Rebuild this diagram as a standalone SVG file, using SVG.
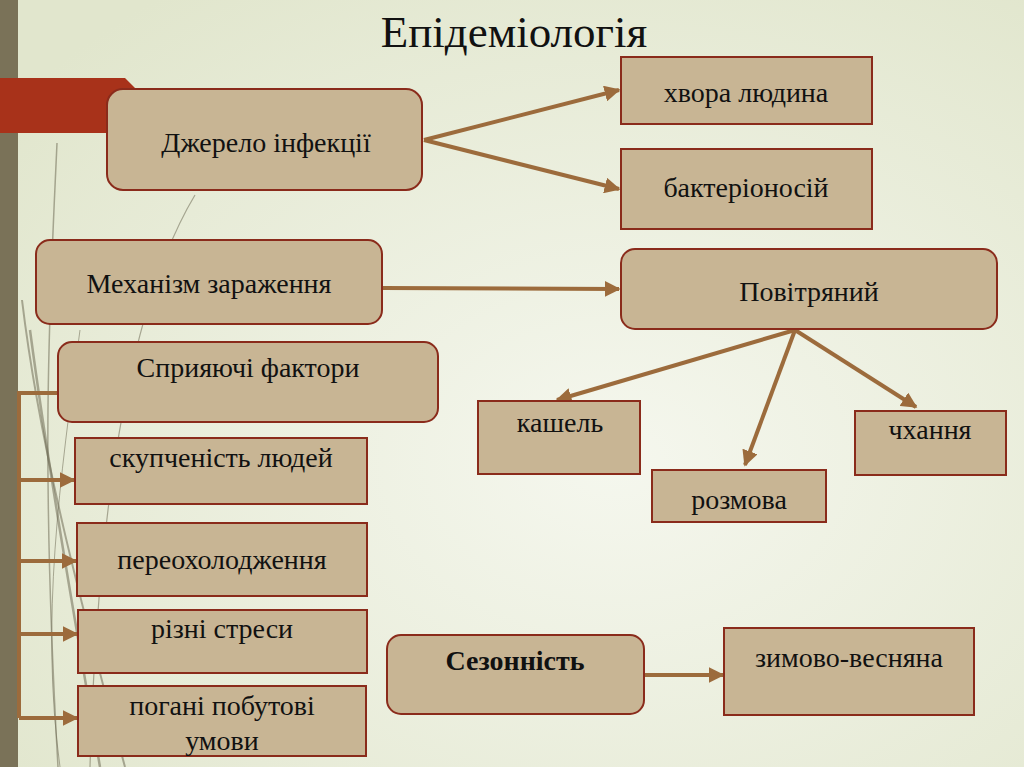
<svg xmlns="http://www.w3.org/2000/svg" width="1024" height="767" viewBox="0 0 1024 767">
<defs>
<radialGradient id="bg" cx="0.6" cy="0.6" r="0.75">
<stop offset="0" stop-color="#f5f7ee"/>
<stop offset="1" stop-color="#e1e6cd"/>
</radialGradient>
<marker id="ah" viewBox="0 0 10 10" refX="9" refY="5" markerWidth="4" markerHeight="4" orient="auto" markerUnits="strokeWidth">
<path d="M0,0 L10,5 L0,10 z" fill="#9c6b3c"/>
</marker>
<style>
.box{fill:#c8b594;stroke:#8a2b1b;stroke-width:2}
.t{font-family:"Liberation Serif","Times New Roman",serif;font-size:28px;fill:#111;text-anchor:middle}
.b{font-weight:bold}
.ln{stroke:#9c6b3c;stroke-width:4;fill:none}
.deco{stroke:#6f6b55;fill:none;opacity:0.55}
</style>
</defs>
<rect width="1024" height="767" fill="url(#bg)"/>
<g id="decor">
<path class="deco" stroke-width="1.5" d="M57,143 C50,300 40,450 58,767"/>
<path class="deco" stroke-width="2" d="M22,300 C40,450 80,600 125,767"/>
<path class="deco" stroke-width="1.2" opacity="0.35" d="M195,195 C150,270 100,420 90,767"/>
<path class="deco" stroke-width="2.5" d="M30,330 C50,480 75,620 100,767"/>
<path class="deco" stroke-width="1" opacity="0.3" d="M80,330 C60,480 40,620 60,767"/>
<rect x="0" y="0" width="18" height="767" fill="#7a7258"/>
<path d="M0,78 L125,78 L135,88 L135,133 L0,133 z" fill="#a8321a"/>
</g>
<text class="t" x="514" y="47" style="font-size:45px">Епідеміологія</text>
<g id="connectors">
<path class="ln" d="M424,140 L619,90" marker-end="url(#ah)"/>
<path class="ln" d="M424,140 L619,189" marker-end="url(#ah)"/>
<path class="ln" d="M383,288 L619,289" marker-end="url(#ah)"/>
<path class="ln" d="M795,330 L557,400" marker-end="url(#ah)"/>
<path class="ln" d="M795,330 L745,465" marker-end="url(#ah)"/>
<path class="ln" d="M795,330 L916,407" marker-end="url(#ah)"/>
<path class="ln" d="M58,393 L19,393 L19,718"/>
<path class="ln" d="M19,480 L74,480" marker-end="url(#ah)"/>
<path class="ln" d="M19,561 L76,561" marker-end="url(#ah)"/>
<path class="ln" d="M19,634 L77,634" marker-end="url(#ah)"/>
<path class="ln" d="M19,718 L77,718" marker-end="url(#ah)"/>
<path class="ln" d="M644,675 L723,675" marker-end="url(#ah)"/>
</g>
<g id="dzherelo"><rect class="box" x="107" y="89" width="315" height="101" rx="16"/><text class="t" x="266" y="152">Джерело інфекції</text></g>
<g id="khvora"><rect class="box" x="621" y="57" width="251" height="67"/><text class="t" x="746" y="102">хвора людина</text></g>
<g id="bakterionosii"><rect class="box" x="621" y="149" width="251" height="80"/><text class="t" x="746" y="197">бактеріоносій</text></g>
<g id="mekhanizm"><rect class="box" x="36" y="240" width="346" height="84" rx="14"/><text class="t" x="209" y="293">Механізм зараження</text></g>
<g id="povitrianyi"><rect class="box" x="621" y="249" width="376" height="80" rx="14"/><text class="t" x="809" y="301">Повітряний</text></g>
<g id="spryiaiuchi"><rect class="box" x="58" y="342" width="380" height="80" rx="14"/><text class="t" x="248" y="377">Сприяючі фактори</text></g>
<g id="skupchenist"><rect class="box" x="75" y="438" width="292" height="66"/><text class="t" x="221" y="467">скупченість людей</text></g>
<g id="pereokholodzhennia"><rect class="box" x="77" y="523" width="290" height="73"/><text class="t" x="222" y="569">переохолодження</text></g>
<g id="stresy"><rect class="box" x="78" y="610" width="289" height="63"/><text class="t" x="222" y="638">різні стреси</text></g>
<g id="umovy"><rect class="box" x="78" y="686" width="288" height="70"/><text class="t" x="222" y="715">погані побутові</text><text class="t" x="222" y="750">умови</text></g>
<g id="kashel"><rect class="box" x="478" y="401" width="162" height="73"/><text class="t" x="560" y="432">кашель</text></g>
<g id="rozmova"><rect class="box" x="652" y="470" width="174" height="52"/><text class="t" x="739" y="509">розмова</text></g>
<g id="chkhannia"><rect class="box" x="855" y="411" width="151" height="64"/><text class="t" x="930" y="439">чхання</text></g>
<g id="sezonnist"><rect class="box" x="387" y="635" width="257" height="79" rx="14"/><text class="t b" x="515" y="670">Сезонність</text></g>
<g id="zymovo"><rect class="box" x="724" y="628" width="250" height="87"/><text class="t" x="849" y="667">зимово-весняна</text></g>
</svg>
